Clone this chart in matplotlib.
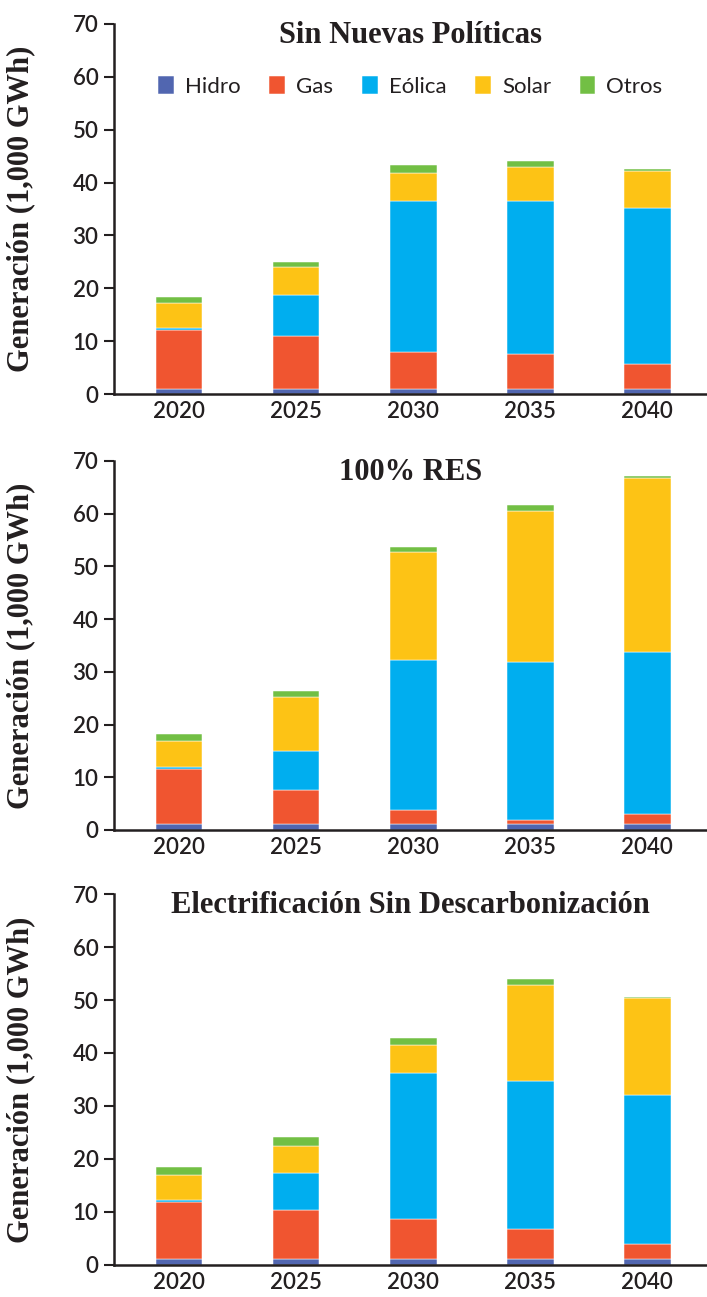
import numpy as np
import matplotlib
matplotlib.use('Agg')
import matplotlib.pyplot as plt

# Daten (1,000 GWh)
years = ['2020', '2025', '2030', '2035', '2040']
sources = ['Hidro', 'Gas', 'Eólica', 'Solar', 'Otros']
colors = ['#5166B0', '#F05530', '#00AEEF', '#FDC315', '#72BF44']

titles = ['Sin Nuevas Políticas', '100% RES', 'Electrificación Sin Descarbonización']

# Sin Nuevas Políticas
snp_hidro = [0.9, 0.9, 0.9, 0.9, 0.9]
snp_gas = [11.2, 10.0, 7.1, 6.7, 4.8]
snp_eolica = [0.3, 7.8, 28.6, 29.0, 29.4]
snp_solar = [4.9, 5.3, 5.2, 6.4, 7.1]
snp_otros = [1.1, 1.0, 1.6, 1.0, 0.3]

# 100% RES
res_hidro = [1.1, 1.1, 1.1, 1.1, 1.1]
res_gas = [10.5, 6.4, 2.7, 0.85, 1.9]
res_eolica = [0.4, 7.4, 28.5, 29.9, 30.7]
res_solar = [4.8, 10.4, 20.4, 28.6, 33.1]
res_otros = [1.4, 1.1, 1.0, 1.1, 0.4]

# Electrificación Sin Descarbonización
esd_hidro = [1.1, 1.1, 1.1, 1.1, 1.1]
esd_gas = [10.8, 9.3, 7.5, 5.6, 2.95]
esd_eolica = [0.3, 7.0, 27.6, 28.0, 28.05]
esd_solar = [4.8, 5.1, 5.3, 18.2, 18.2]
esd_otros = [1.5, 1.6, 1.4, 1.0, 0.35]

scenarios = [
    [snp_hidro, snp_gas, snp_eolica, snp_solar, snp_otros],
    [res_hidro, res_gas, res_eolica, res_solar, res_otros],
    [esd_hidro, esd_gas, esd_eolica, esd_solar, esd_otros],
]

sans = ['Lato', 'DejaVu Sans']
serif = ['Liberation Serif', 'DejaVu Serif']
dark = '#231F20'

fig = plt.figure(figsize=(7.07, 12.97), dpi=100)
positions = [[0.161, 0.6962, 0.839, 0.2853],
             [0.161, 0.3601, 0.839, 0.2845],
             [0.161, 0.0247, 0.839, 0.2860]]

x = np.arange(len(years))
for pos, title, data in zip(positions, titles, scenarios):
    ax = fig.add_axes(pos)
    bottom = np.zeros(len(years))
    for vals, name, c in zip(data, sources, colors):
        ax.bar(x, vals, width=0.4, bottom=bottom, color=c, edgecolor='white',
               linewidth=0.35, label=name)
        bottom += np.array(vals)

    ax.set_xlim(-0.556, 4.51)
    ax.set_ylim(0, 70)
    ax.set_yticks(np.arange(0, 71, 10))
    ax.set_xticks(x)
    ax.set_xticklabels(years)
    for lab in ax.get_xticklabels() + ax.get_yticklabels():
        lab.set_family(sans)
        lab.set_fontsize(16)
        lab.set_fontweight('semibold')
        lab.set_color(dark)
    ax.tick_params(axis='x', length=0, pad=5)
    ax.tick_params(axis='y', length=7, width=1.5, color=dark, pad=4)

    for s in ['top', 'right']:
        ax.spines[s].set_visible(False)
    for s in ['left', 'bottom']:
        ax.spines[s].set_linewidth(1.8)
        ax.spines[s].set_color(dark)

    ax.set_ylabel('Generación (1,000 GWh)', family=serif, fontweight='bold',
                  fontsize=22, color=dark)
    ax.yaxis.set_label_coords(-0.132, 0.5)
    ax.text(0.5, 0.97, title, transform=ax.transAxes, ha='center', va='center',
            family=serif, fontweight='bold', fontsize=22, color=dark)

    if title == titles[0]:
        ax.legend(loc='center', bbox_to_anchor=(0.5, 0.832), ncol=5, frameon=False,
                  prop={'family': sans, 'size': 16}, handlelength=0.7,
                  handleheight=0.9, handletextpad=0.5, columnspacing=1.3,
                  labelcolor=dark)

fig.savefig('out.png', dpi=100)
